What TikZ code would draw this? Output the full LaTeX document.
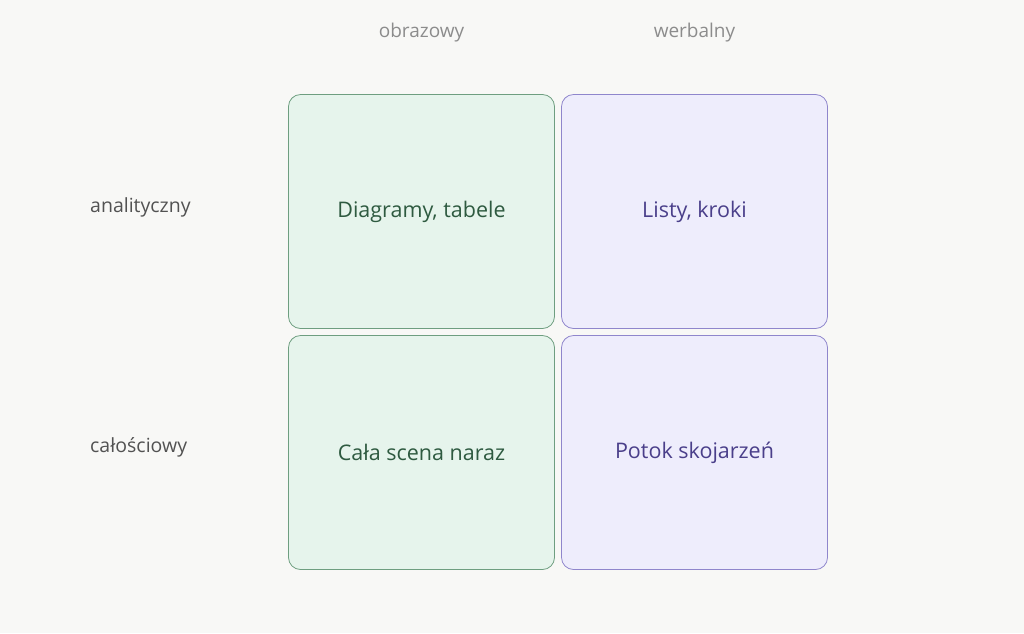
\documentclass[tikz,border=0pt]{standalone}
\usepackage{fontspec}
\setmainfont{Open Sans}
\usetikzlibrary{positioning}
\definecolor{bgcol}{HTML}{F8F8F6}
\definecolor{grfill}{HTML}{E6F4EC}
\definecolor{grline}{HTML}{6E9E80}
\definecolor{grtext}{HTML}{2E5A40}
\definecolor{pufill}{HTML}{EEEDFC}
\definecolor{puline}{HTML}{8F86CC}
\definecolor{putext}{HTML}{4A3F8A}
\begin{document}
\begin{tikzpicture}
            [x=1pt, y=-1pt,
            cell/.style={draw, rounded corners=12pt, line width=0.8pt,
                minimum width=266pt, minimum height=234pt,
                inner sep=0pt, font=\fontsize{21.5}{25}\selectfont},
            green cell/.style={cell, fill=grfill, draw=grline, text=grtext},
            purple cell/.style={cell, fill=pufill, draw=puline, text=putext},
            head/.style={font=\fontsize{19}{22}\selectfont, text=black!45},
            row/.style={font=\fontsize{19.5}{23}\selectfont, text=black!68,
                anchor=west, inner sep=0pt}
            ]
            \fill [bgcol] (0,0) rectangle (1024,633);
            \useasboundingbox (0,0) rectangle (1024,633);

            \node (dt) [green cell] at (421.5,211.5) {\raisebox{-3pt}{Diagramy, tabele}};
            \node (lk) [purple cell] at (694.5,211.5) {\raisebox{-3pt}{Listy, kroki}};
            \node (cs) [green cell] at (421.5,452.5) {\raisebox{-3pt}{Cała scena naraz}};
            \node (ps) [purple cell] at (694.5,452.5) {\raisebox{-3pt}{Potok skojarzeń}};

            % Headers
            \node (obr) [head] at (421.5,33) {obrazowy};
            \node (wer) [head] at (694.5,33) {werbalny};
            \node (ana) [row] at (90,207) {analityczny};
            \node (cal) [row] at (90,447) {całościowy};
        \end{tikzpicture}
\end{document}
